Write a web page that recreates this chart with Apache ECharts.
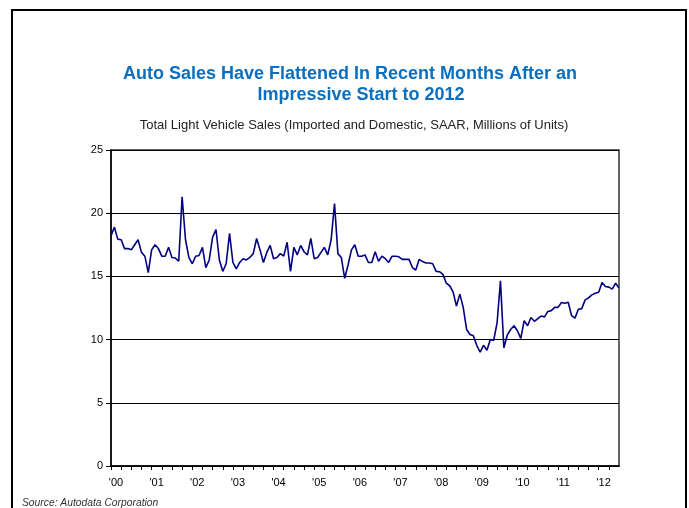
<!DOCTYPE html>
<html>
<head>
<meta charset="utf-8">
<script src="https://cdn.jsdelivr.net/npm/echarts@6/dist/echarts.min.js"></script>
<style>
html,body{margin:0;padding:0;background:#fff;}
#c{width:689px;height:508px;}
</style>
</head>
<body>
<div id="c"></div>
<script>
// Monthly light vehicle sales, SAAR, millions of units (Jan 2000 - Jul 2012)
const y2000 = [18.2, 18.9, 17.95, 17.9, 17.2, 17.2, 17.1, 17.5, 17.9, 16.9, 16.6, 15.3];
const y2001 = [17.1, 17.5, 17.2, 16.6, 16.6, 17.3, 16.5, 16.45, 16.2, 21.3, 17.9, 16.5];
const y2002 = [16.0, 16.6, 16.65, 17.3, 15.7, 16.3, 18.1, 18.7, 16.3, 15.4, 16.0, 18.4];
const y2003 = [16.1, 15.6, 16.1, 16.4, 16.3, 16.5, 16.8, 18.0, 17.1, 16.1, 16.9, 17.45];
const y2004 = [16.4, 16.5, 16.8, 16.6, 17.7, 15.4, 17.3, 16.7, 17.45, 16.95, 16.7, 18.0];
const y2005 = [16.4, 16.5, 16.9, 17.3, 16.7, 17.9, 20.76, 16.8, 16.5, 14.85, 15.9, 17.1];
const y2006 = [17.5, 16.6, 16.6, 16.7, 16.1, 16.1, 16.95, 16.2, 16.6, 16.4, 16.1, 16.6];
const y2007 = [16.6, 16.55, 16.35, 16.35, 16.35, 15.7, 15.5, 16.35, 16.17, 16.06, 16.06, 16.0];
const y2008 = [15.4, 15.37, 15.16, 14.47, 14.26, 13.78, 12.66, 13.6, 12.55, 10.8, 10.4, 10.3];
const y2009 = [9.55, 9.0, 9.55, 9.15, 10.0, 9.95, 11.33, 14.65, 9.36, 10.35, 10.8, 11.1];
const y2010 = [10.7, 10.1, 11.5, 11.1, 11.75, 11.45, 11.65, 11.86, 11.8, 12.23, 12.29, 12.55];
const y2011 = [12.55, 12.93, 12.87, 12.95, 11.9, 11.7, 12.4, 12.45, 13.14, 13.3, 13.54, 13.67];
const y2012 = [13.75, 14.52, 14.2, 14.15, 13.99, 14.47, 14.07];

const yearLabels = ["'00", "'01", "'02", "'03", "'04", "'05", "'06", "'07", "'08", "'09", "'10", "'11", "'12"];
const yTicks = [0, 5, 10, 15, 20, 25];

const sales = [].concat(y2000, y2001, y2002, y2003, y2004, y2005, y2006, y2007, y2008, y2009, y2010, y2011, y2012);
const points = sales.map((v, i) => [i, v]);

const FONT = 'Arial, "Liberation Sans", sans-serif';
const titleStyle = {color: '#0B6FBF', fontFamily: FONT, fontSize: 18, fontWeight: 'bold'};
const chart = echarts.init(document.getElementById('c'), null, {renderer: 'canvas'});
chart.setOption({
  backgroundColor: '#fff',
  animation: false,
  title: [
    {
      text: 'Auto Sales Have Flattened In Recent Months After an',
      left: 345, top: 60, textAlign: 'center', textStyle: titleStyle
    },
    {
      text: 'Impressive Start to 2012',
      left: 356, top: 81, textAlign: 'center', textStyle: titleStyle
    },
    {
      text: 'Total Light Vehicle Sales (Imported and Domestic, SAAR, Millions of Units)',
      left: 349, top: 114, textAlign: 'center',
      textStyle: {color: '#222', fontFamily: FONT, fontSize: 13, fontWeight: 'normal'}
    },
    {
      text: 'Source: Autodata Corporation',
      left: 17, top: 493,
      textStyle: {color: '#333', fontFamily: FONT, fontSize: 10.3, fontStyle: 'italic', fontWeight: 'normal'}
    }
  ],
  graphic: [
    {type: 'rect', shape: {x: 12, y: 10, width: 674, height: 520},
     style: {fill: null, stroke: '#000', lineWidth: 2}, silent: true, z: 100}
  ],
  grid: {left: 111, top: 150, right: 70, bottom: 42, show: true, borderColor: '#333', borderWidth: 1.5, backgroundColor: 'transparent'},
  xAxis: {
    type: 'value', min: 0, max: 150, interval: 3,
    axisLine: {show: true, lineStyle: {color: '#000', width: 1.5}},
    axisTick: {show: true, length: 4, lineStyle: {color: '#000'}},
    splitLine: {show: false},
    axisLabel: {
      color: '#000', fontFamily: FONT, fontSize: 11, margin: 11, padding: [0, 0, 0, 10],
      showMinLabel: true, showMaxLabel: false,
      formatter: v => (v % 12 === 0 ? yearLabels[v / 12] : '')
    }
  },
  yAxis: {
    type: 'value', min: yTicks[0], max: yTicks[yTicks.length - 1], interval: 5,
    axisLine: {show: true, lineStyle: {color: '#000', width: 1.5}},
    axisTick: {show: true, length: 5, inside: false, lineStyle: {color: '#000'}},
    splitLine: {show: true, lineStyle: {color: '#000', width: 1}},
    axisLabel: {color: '#000', fontFamily: FONT, fontSize: 11, margin: 8}
  },
  series: [{
    type: 'line', data: points, showSymbol: false, symbol: 'none',
    lineStyle: {color: '#000080', width: 1.6}, z: 5
  }]
});
</script>
</body>
</html>
